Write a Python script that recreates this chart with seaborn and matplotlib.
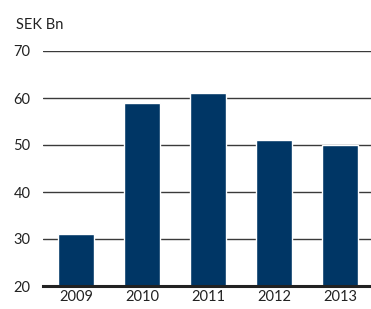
import matplotlib
matplotlib.use("Agg")
import matplotlib.pyplot as plt
import seaborn as sns
import pandas as pd

years = ["2009", "2010", "2011", "2012", "2013"]
values = [31, 59, 61, 51, 50]
y_ticks = [20, 30, 40, 50, 60, 70]

sns.set_style("white")
plt.rcParams["font.family"] = ["Lato", "DejaVu Sans"]

df = pd.DataFrame({"year": years, "value": values})

W, H = 371, 309
fig = plt.figure(figsize=(W / 100, H / 100), dpi=100)
ax = fig.add_axes([43 / W, (H - 286) / H, (W - 43) / W, (286 - 51) / H])

# grid lines first, bars over them
for t in y_ticks[1:]:
    ax.axhline(t, color="#3a3a3a", lw=1.0, zorder=0)

sns.barplot(data=df, x="year", y="value", color="#003665", saturation=1,
            width=0.545, ax=ax, zorder=2)

ax.set_ylim(20, 70)
ax.set_xlim(-0.5, 4.47)
ax.set_yticks(y_ticks)
ax.set_xlabel("")
ax.set_ylabel("")
for s in ["top", "right", "left"]:
    ax.spines[s].set_visible(False)
ax.spines["bottom"].set_color("#222222")
ax.spines["bottom"].set_linewidth(2.2)
ax.spines["bottom"].set_zorder(3)
ax.tick_params(axis="both", length=0, labelsize=10.5, colors="#222222")
ax.tick_params(axis="y", pad=9)
ax.tick_params(axis="x", pad=3)

fig.text(16 / W, 1 - 25 / H, "SEK Bn", fontsize=10.5, color="#222222",
         ha="left", va="center")

fig.savefig("out.png", dpi=100)
